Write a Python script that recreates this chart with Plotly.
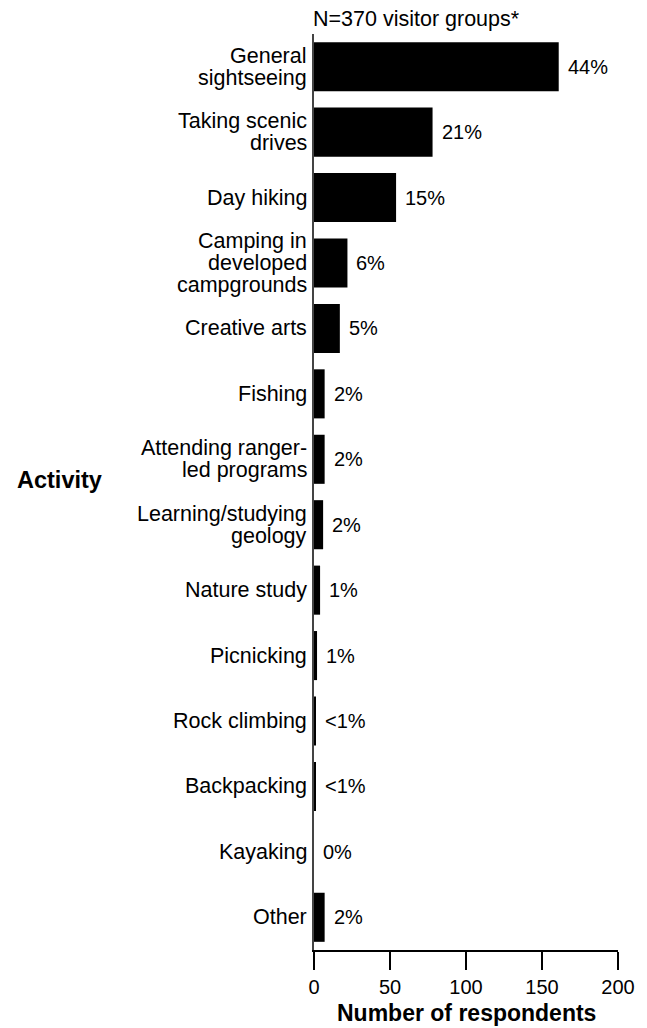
import plotly.graph_objects as go

activities = [
    "General<br>sightseeing",
    "Taking scenic<br>drives",
    "Day hiking",
    "Camping in<br>developed<br>campgrounds",
    "Creative arts",
    "Fishing",
    "Attending ranger-<br>led programs",
    "Learning/studying<br>geology",
    "Nature study",
    "Picnicking",
    "Rock climbing",
    "Backpacking",
    "Kayaking",
    "Other",
]
respondents = [161, 78, 54, 22, 17, 7, 7, 6, 4, 2, 1, 1, 0, 7]
percent_labels = ["44%", "21%", "15%", "6%", "5%", "2%", "2%", "2%", "1%", "1%",
                  "<1%", "<1%", "0%", "2%"]
x_ticks = [0, 50, 100, 150, 200]

FONT = "Arial, Liberation Sans, Helvetica, sans-serif"
LINE_GAP = 22
W, H = 647, 1028
ML, MR, MT, MB = 314, 26, 34, 78

fig = go.Figure()
fig.add_trace(go.Bar(
    x=respondents,
    y=list(range(len(activities))),
    orientation="h",
    width=0.75,
    marker=dict(color="#000000", line=dict(width=0)),
    hoverinfo="skip",
))

annotations = []
for i, (lab, val, pct) in enumerate(zip(activities, respondents, percent_labels)):
    lines = lab.split("<br>")
    n = len(lines)
    for j, line in enumerate(lines):
        annotations.append(dict(
            x=0, y=i, xref="x", yref="y", text=line, showarrow=False,
            xanchor="right", yanchor="middle", xshift=-5,
            yshift=((n - 1) / 2 - j) * LINE_GAP,
            font=dict(family=FONT, size=21.5, color="#000000"),
        ))
    annotations.append(dict(
        x=val, y=i, xref="x", yref="y", text=pct, showarrow=False,
        xanchor="left", yanchor="middle", xshift=7,
        font=dict(family=FONT, size=20, color="#000000"),
    ))

plot_h = H - MT - MB
plot_w = W - ML - MR

annotations.append(dict(
    x=0, y=1, xref="paper", yref="paper", text="N=370 visitor groups*",
    showarrow=False, xanchor="left", yanchor="middle", yshift=15, xshift=-3,
    font=dict(family=FONT, size=21.5, color="#000000"),
))
annotations.append(dict(
    x=0.5, y=0, xref="paper", yref="paper", text="<b>Number of respondents</b>",
    showarrow=False, xanchor="center", yanchor="middle", yshift=-63,
    font=dict(family=FONT, size=23, color="#000000"),
))
annotations.append(dict(
    x=(57 - ML) / plot_w, y=(H - MB - 480) / plot_h, xref="paper", yref="paper",
    text="<b>Activity</b>",
    showarrow=False, xanchor="center", yanchor="middle",
    font=dict(family=FONT, size=23.5, color="#000000"),
))

fig.update_layout(
    width=W, height=H,
    margin=dict(l=ML, r=MR, t=MT, b=MB, pad=0),
    paper_bgcolor="white", plot_bgcolor="white",
    showlegend=False,
    annotations=annotations,
    xaxis=dict(
        range=[0, 200], tickvals=x_ticks, ticktext=[str(t) for t in x_ticks],
        showgrid=False, zeroline=False,
        showline=True, linecolor="#000000", linewidth=2,
        ticks="outside", ticklen=18, tickwidth=2, tickcolor="#000000",
        tickfont=dict(family=FONT, size=20, color="#000000"),
        fixedrange=True,
    ),
    yaxis=dict(
        range=[len(activities) - 0.5, -0.5],
        showticklabels=False, showgrid=False, zeroline=False,
        showline=True, linecolor="#444444", linewidth=2, ticks="",
        fixedrange=True,
    ),
)

fig.write_html(
    "out.html",
    config={"displayModeBar": False},
    post_script="document.body.style.margin='0';document.body.style.overflow='hidden';",
)
